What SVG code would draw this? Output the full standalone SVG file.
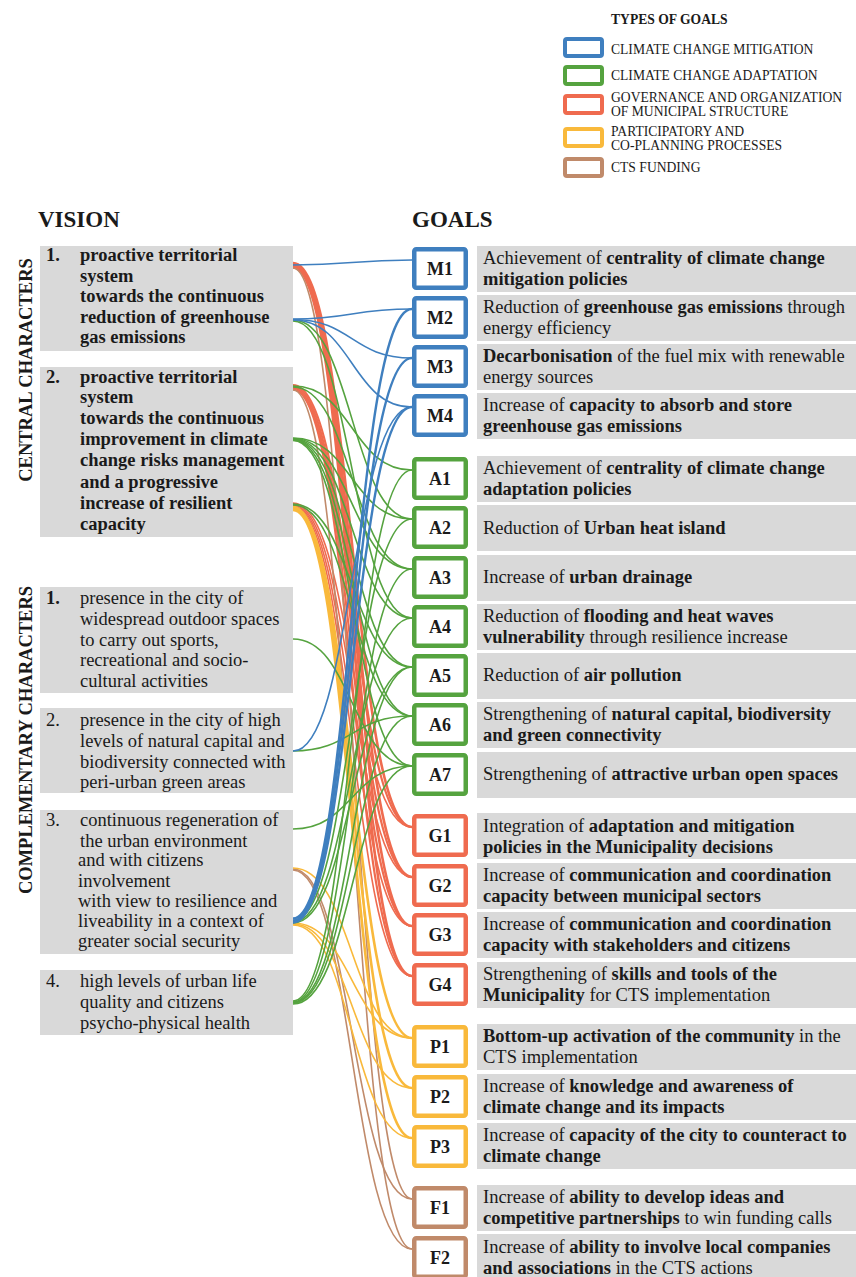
<svg xmlns="http://www.w3.org/2000/svg" width="856" height="1277" viewBox="0 0 856 1277">
  <style>
    text { font-family: "Liberation Serif", "Times New Roman", serif; fill: #1a1a1a; }
    .hd { font-size: 23px; font-weight: bold; }
    .side { font-size: 18.5px; font-weight: bold; text-anchor: middle; }
    .lg { font-size: 13.6px; }
    .lgt { font-size: 13.6px; font-weight: bold; }
    .vt { font-size: 18.5px; }
    .vb { font-size: 18.5px; font-weight: bold; }
    .gt { font-size: 18.5px; }
    .code { font-size: 18px; font-weight: bold; text-anchor: middle; }
    .b { font-weight: bold; }
    .panel { fill: #d9d9d9; }
    .box { fill: #ffffff; stroke-width: 4.5; }
    .lbox { fill: #ffffff; stroke-width: 4; }
    .mit { stroke: #3f7fbf; }
    .ada { stroke: #55a33f; }
    .gov { stroke: #ef6b4f; }
    .par { stroke: #f9b93b; }
    .fun { stroke: #c08a6a; }
    #connectors path { fill: none; stroke-linecap: round; }
    .cb { stroke: #3f7fbf; stroke-width: 1.6; }
    .cg { stroke: #55a33f; stroke-width: 1.6; }
    .cr { stroke: #ef6b4f; stroke-width: 1.6; }
    .cy { stroke: #f9b93b; stroke-width: 1.6; }
    .cn { stroke: #c08a6a; stroke-width: 1.6; }
  </style>

  <rect width="856" height="1277" fill="#ffffff"/>

  <!-- Legend: types of goals -->
  <g id="legend">
    <text class="lgt" x="611" y="24">TYPES OF GOALS</text>
    <rect class="lbox mit" x="565" y="39" width="37" height="17" rx="2"/>
    <text class="lg" x="611" y="54">CLIMATE CHANGE MITIGATION</text>
    <rect class="lbox ada" x="565" y="67" width="37" height="17" rx="2"/>
    <text class="lg" x="611" y="80">CLIMATE CHANGE ADAPTATION</text>
    <rect class="lbox gov" x="565" y="96" width="37" height="17" rx="2"/>
    <text class="lg" x="611" y="102">GOVERNANCE AND ORGANIZATION</text>
    <text class="lg" x="611" y="116">OF MUNICIPAL STRUCTURE</text>
    <rect class="lbox par" x="565" y="129" width="37" height="17" rx="2"/>
    <text class="lg" x="611" y="136">PARTICIPATORY AND</text>
    <text class="lg" x="611" y="150">CO-PLANNING PROCESSES</text>
    <rect class="lbox fun" x="565" y="159" width="37" height="17" rx="2"/>
    <text class="lg" x="611" y="172">CTS FUNDING</text>
  </g>

  <!-- Column headings -->
  <text class="hd" x="38" y="227">VISION</text>
  <text class="hd" x="412" y="227">GOALS</text>
  <text class="side" transform="translate(32,370) rotate(-90)">CENTRAL CHARACTERS</text>
  <text class="side" transform="translate(32,740) rotate(-90)">COMPLEMENTARY CHARACTERS</text>

  <!-- Connectors: vision characters to goals -->
  <g id="connectors">
    <!-- governance -->
    <path class="cr" style="stroke-width:2.6" d="M293,263C352,263 352,827 412,827"/>
    <path class="cr" style="stroke-width:2.6" d="M293,264.5C352,264.5 352,877 412,877"/>
    <path class="cr" style="stroke-width:2.6" d="M293,266C352,266 352,926 412,926"/>
    <path class="cr" style="stroke-width:2.6" d="M293,267.5C352,267.5 352,976 412,976"/>
    <path class="cr" style="stroke-width:2.2" d="M293,385C352,385 352,827 412,827"/>
    <path class="cr" style="stroke-width:2.2" d="M293,386.5C352,386.5 352,877 412,877"/>
    <path class="cr" style="stroke-width:2.2" d="M293,388C352,388 352,926 412,926"/>
    <path class="cr" style="stroke-width:2.2" d="M293,389.5C352,389.5 352,976 412,976"/>
    <path class="cr" d="M293,503C352,503 352,827 412,827"/>
    <path class="cr" d="M293,504C352,504 352,877 412,877"/>
    <path class="cr" d="M293,505C352,505 352,926 412,926"/>
    <path class="cr" d="M293,506C352,506 352,976 412,976"/>
    <!-- funding -->
    <path class="cn" d="M293,268C352,268 352,1199 412,1199"/>
    <path class="cn" d="M293,390C352,390 352,1249 412,1249"/>
    <path class="cn" d="M293,869C352,869 352,1199 412,1199"/>
    <path class="cn" d="M293,870C352,870 352,1249 412,1249"/>
    <!-- participatory -->
    <path class="cy" style="stroke-width:2.6" d="M293,507C352,507 352,1038 412,1038"/>
    <path class="cy" style="stroke-width:2.6" d="M293,508.5C352,508.5 352,1088 412,1088"/>
    <path class="cy" style="stroke-width:2.6" d="M293,510C352,510 352,1138 412,1138"/>
    <path class="cy" d="M293,868C352,868 352,1038 412,1038"/>
    <path class="cy" d="M293,923C352,923 352,1038 412,1038"/>
    <path class="cy" d="M293,924C352,924 352,1088 412,1088"/>
    <path class="cy" d="M293,925C352,925 352,1138 412,1138"/>
    <!-- adaptation -->
    <path class="cg" d="M293,320C352,320 352,519 412,519"/>
    <path class="cg" d="M293,321C352,321 352,618 412,618"/>
    <path class="cg" d="M293,386C352,386 352,470 412,470"/>
    <path class="cg" d="M293,387C352,387 352,569 412,569"/>
    <path class="cg" d="M293,438C352,438 352,519 412,519"/>
    <path class="cg" d="M293,438.5C352,438.5 352,569 412,569"/>
    <path class="cg" d="M293,439C352,439 352,618 412,618"/>
    <path class="cg" d="M293,439.5C352,439.5 352,667 412,667"/>
    <path class="cg" d="M293,440C352,440 352,716 412,716"/>
    <path class="cg" d="M293,440.5C352,440.5 352,766 412,766"/>
    <path class="cg" d="M293,504C352,504 352,667 412,667"/>
    <path class="cg" d="M293,505C352,505 352,716 412,716"/>
    <path class="cg" d="M293,639C352,639 352,766 412,766"/>
    <path class="cg" d="M293,751C352,751 352,716 412,716"/>
    <path class="cg" d="M293,829C352,829 352,766 412,766"/>
    <path class="cg" d="M293,921C352,921 352,519 412,519"/>
    <path class="cg" d="M293,922C352,922 352,618 412,618"/>
    <path class="cg" d="M293,923C352,923 352,667 412,667"/>
    <path class="cg" d="M293,1001C352,1001 352,470 412,470"/>
    <path class="cg" d="M293,1002C352,1002 352,569 412,569"/>
    <path class="cg" d="M293,1002.5C352,1002.5 352,667 412,667"/>
    <path class="cg" d="M293,1003C352,1003 352,716 412,716"/>
    <path class="cg" d="M293,1004C352,1004 352,766 412,766"/>
    <!-- mitigation -->
    <path class="cb" d="M293,265C352,265 352,260 412,260"/>
    <path class="cb" d="M293,319C352,319 352,309 412,309"/>
    <path class="cb" d="M293,319.5C352,319.5 352,358 412,358"/>
    <path class="cb" d="M293,320C352,320 352,407 412,407"/>
    <path class="cb" d="M293,751C352,751 352,407 412,407"/>
    <path class="cb" style="stroke-width:2.4" d="M293,918.5C352,918.5 352,309 412,309"/>
    <path class="cb" style="stroke-width:2.4" d="M293,920.5C352,920.5 352,358 412,358"/>
    <path class="cb" style="stroke-width:2.4" d="M293,922.5C352,922.5 352,407 412,407"/>
  </g>

  <!-- Vision: central characters -->
  <g id="vision-c1">
    <rect class="panel" x="40" y="246" width="253" height="105"/>
    <text class="vb" x="46" y="261">1.</text>
    <text class="vb" x="80" y="261">proactive territorial</text>
    <text class="vb" x="80" y="282">system</text>
    <text class="vb" x="80" y="302">towards the continuous</text>
    <text class="vb" x="80" y="323">reduction of greenhouse</text>
    <text class="vb" x="80" y="343">gas emissions</text>
  </g>
  <g id="vision-c2">
    <rect class="panel" x="40" y="367" width="253" height="170"/>
    <text class="vb" x="46" y="383">2.</text>
    <text class="vb" x="80" y="383">proactive territorial</text>
    <text class="vb" x="80" y="403">system</text>
    <text class="vb" x="80" y="424">towards the continuous</text>
    <text class="vb" x="80" y="445">improvement in climate</text>
    <text class="vb" x="80" y="466">change risks management</text>
    <text class="vb" x="80" y="488">and a progressive</text>
    <text class="vb" x="80" y="509">increase of resilient</text>
    <text class="vb" x="80" y="530">capacity</text>
  </g>

  <!-- Vision: complementary characters -->
  <g id="vision-p1">
    <rect class="panel" x="40" y="587" width="253" height="106"/>
    <text class="vb" x="46" y="604">1.</text>
    <text class="vt" x="80" y="604">presence in the city of</text>
    <text class="vt" x="80" y="625">widespread outdoor spaces</text>
    <text class="vt" x="80" y="646">to carry out sports,</text>
    <text class="vt" x="80" y="666">recreational and socio-</text>
    <text class="vt" x="80" y="687">cultural activities</text>
  </g>
  <g id="vision-p2">
    <rect class="panel" x="40" y="708" width="253" height="85"/>
    <text class="vt" x="46" y="726">2.</text>
    <text class="vt" x="80" y="726">presence in the city of high</text>
    <text class="vt" x="80" y="747">levels of natural capital and</text>
    <text class="vt" x="80" y="768">biodiversity connected with</text>
    <text class="vt" x="80" y="788">peri-urban green areas</text>
  </g>
  <g id="vision-p3">
    <rect class="panel" x="40" y="810" width="253" height="144"/>
    <text class="vt" x="46" y="826">3.</text>
    <text class="vt" x="80" y="826">continuous regeneration of</text>
    <text class="vt" x="80" y="847">the urban environment</text>
    <text class="vt" x="78" y="866">and with citizens</text>
    <text class="vt" x="78" y="887">involvement</text>
    <text class="vt" x="78" y="907">with view to resilience and</text>
    <text class="vt" x="78" y="927">liveability in a context of</text>
    <text class="vt" x="78" y="947">greater social security</text>
  </g>
  <g id="vision-p4">
    <rect class="panel" x="40" y="970" width="253" height="65"/>
    <text class="vt" x="46" y="987">4.</text>
    <text class="vt" x="80" y="987">high levels of urban life</text>
    <text class="vt" x="80" y="1008">quality and citizens</text>
    <text class="vt" x="80" y="1029">psycho-physical health</text>
  </g>

  <!-- Goals: mitigation -->
  <g id="goal-M1">
    <rect class="box mit" x="414.25" y="249.25" width="51.5" height="38.5" rx="2"/>
    <text class="code" x="440" y="275">M1</text>
    <rect class="panel" x="477" y="246" width="379" height="46"/>
    <text class="gt" x="483" y="264">Achievement of <tspan class="b">centrality of climate change</tspan></text>
    <text class="gt b" x="483" y="285">mitigation policies</text>
  </g>
  <g id="goal-M2">
    <rect class="box mit" x="414.25" y="298.25" width="51.5" height="38.5" rx="2"/>
    <text class="code" x="440" y="324">M2</text>
    <rect class="panel" x="477" y="295" width="379" height="46"/>
    <text class="gt" x="483" y="313">Reduction of <tspan class="b">greenhouse gas emissions</tspan> through</text>
    <text class="gt" x="483" y="334">energy efficiency</text>
  </g>
  <g id="goal-M3">
    <rect class="box mit" x="414.25" y="347.25" width="51.5" height="38.5" rx="2"/>
    <text class="code" x="440" y="373">M3</text>
    <rect class="panel" x="477" y="344" width="379" height="46"/>
    <text class="gt" x="483" y="362"><tspan class="b">Decarbonisation</tspan> of the fuel mix with renewable</text>
    <text class="gt" x="483" y="383">energy sources</text>
  </g>
  <g id="goal-M4">
    <rect class="box mit" x="414.25" y="396.25" width="51.5" height="38.5" rx="2"/>
    <text class="code" x="440" y="422">M4</text>
    <rect class="panel" x="477" y="393" width="379" height="46"/>
    <text class="gt" x="483" y="411">Increase of <tspan class="b">capacity to absorb and store</tspan></text>
    <text class="gt b" x="483" y="432">greenhouse gas emissions</text>
  </g>

  <!-- Goals: adaptation -->
  <g id="goal-A1">
    <rect class="box ada" x="414.25" y="459.25" width="51.5" height="38.5" rx="2"/>
    <text class="code" x="440" y="485">A1</text>
    <rect class="panel" x="477" y="456" width="379" height="46"/>
    <text class="gt" x="483" y="474">Achievement of <tspan class="b">centrality of climate change</tspan></text>
    <text class="gt b" x="483" y="495">adaptation policies</text>
  </g>
  <g id="goal-A2">
    <rect class="box ada" x="414.25" y="508.25" width="51.5" height="38.5" rx="2"/>
    <text class="code" x="440" y="534">A2</text>
    <rect class="panel" x="477" y="505" width="379" height="46"/>
    <text class="gt" x="483" y="534">Reduction of <tspan class="b">Urban heat island</tspan></text>
  </g>
  <g id="goal-A3">
    <rect class="box ada" x="414.25" y="558.25" width="51.5" height="38.5" rx="2"/>
    <text class="code" x="440" y="584">A3</text>
    <rect class="panel" x="477" y="555" width="379" height="46"/>
    <text class="gt" x="483" y="583">Increase of <tspan class="b">urban drainage</tspan></text>
  </g>
  <g id="goal-A4">
    <rect class="box ada" x="414.25" y="607.25" width="51.5" height="38.5" rx="2"/>
    <text class="code" x="440" y="633">A4</text>
    <rect class="panel" x="477" y="604" width="379" height="46"/>
    <text class="gt" x="483" y="622">Reduction of <tspan class="b">flooding and heat waves</tspan></text>
    <text class="gt" x="483" y="643"><tspan class="b">vulnerability</tspan> through resilience increase</text>
  </g>
  <g id="goal-A5">
    <rect class="box ada" x="414.25" y="656.25" width="51.5" height="38.5" rx="2"/>
    <text class="code" x="440" y="682">A5</text>
    <rect class="panel" x="477" y="653" width="379" height="46"/>
    <text class="gt" x="483" y="681">Reduction of <tspan class="b">air pollution</tspan></text>
  </g>
  <g id="goal-A6">
    <rect class="box ada" x="414.25" y="705.25" width="51.5" height="38.5" rx="2"/>
    <text class="code" x="440" y="731">A6</text>
    <rect class="panel" x="477" y="702" width="379" height="46"/>
    <text class="gt" x="483" y="720">Strengthening of <tspan class="b">natural capital, biodiversity</tspan></text>
    <text class="gt b" x="483" y="741">and green connectivity</text>
  </g>
  <g id="goal-A7">
    <rect class="box ada" x="414.25" y="755.25" width="51.5" height="38.5" rx="2"/>
    <text class="code" x="440" y="781">A7</text>
    <rect class="panel" x="477" y="752" width="379" height="46"/>
    <text class="gt" x="483" y="780">Strengthening of <tspan class="b">attractive urban open spaces</tspan></text>
  </g>

  <!-- Goals: governance -->
  <g id="goal-G1">
    <rect class="box gov" x="414.25" y="816.25" width="51.5" height="38.5" rx="2"/>
    <text class="code" x="440" y="842">G1</text>
    <rect class="panel" x="477" y="813" width="379" height="46"/>
    <text class="gt" x="483" y="832">Integration of <tspan class="b">adaptation and mitigation</tspan></text>
    <text class="gt b" x="483" y="853">policies in the Municipality decisions</text>
  </g>
  <g id="goal-G2">
    <rect class="box gov" x="414.25" y="866.25" width="51.5" height="38.5" rx="2"/>
    <text class="code" x="440" y="892">G2</text>
    <rect class="panel" x="477" y="863" width="379" height="46"/>
    <text class="gt" x="483" y="881">Increase of <tspan class="b">communication and coordination</tspan></text>
    <text class="gt b" x="483" y="902">capacity between municipal sectors</text>
  </g>
  <g id="goal-G3">
    <rect class="box gov" x="414.25" y="915.25" width="51.5" height="38.5" rx="2"/>
    <text class="code" x="440" y="941">G3</text>
    <rect class="panel" x="477" y="912" width="379" height="46"/>
    <text class="gt" x="483" y="930">Increase of <tspan class="b">communication and coordination</tspan></text>
    <text class="gt b" x="483" y="951">capacity with stakeholders and citizens</text>
  </g>
  <g id="goal-G4">
    <rect class="box gov" x="414.25" y="965.25" width="51.5" height="38.5" rx="2"/>
    <text class="code" x="440" y="991">G4</text>
    <rect class="panel" x="477" y="962" width="379" height="46"/>
    <text class="gt" x="483" y="980">Strengthening of <tspan class="b">skills and tools of the</tspan></text>
    <text class="gt" x="483" y="1001"><tspan class="b">Municipality</tspan> for CTS implementation</text>
  </g>

  <!-- Goals: participatory processes -->
  <g id="goal-P1">
    <rect class="box par" x="414.25" y="1027.25" width="51.5" height="38.5" rx="2"/>
    <text class="code" x="440" y="1053">P1</text>
    <rect class="panel" x="477" y="1024" width="379" height="46"/>
    <text class="gt" x="483" y="1042"><tspan class="b">Bottom-up activation of the community</tspan> in the</text>
    <text class="gt" x="483" y="1063">CTS implementation</text>
  </g>
  <g id="goal-P2">
    <rect class="box par" x="414.25" y="1077.25" width="51.5" height="38.5" rx="2"/>
    <text class="code" x="440" y="1103">P2</text>
    <rect class="panel" x="477" y="1074" width="379" height="46"/>
    <text class="gt" x="483" y="1092">Increase of <tspan class="b">knowledge and awareness of</tspan></text>
    <text class="gt b" x="483" y="1113">climate change and its impacts</text>
  </g>
  <g id="goal-P3">
    <rect class="box par" x="414.25" y="1127.25" width="51.5" height="38.5" rx="2"/>
    <text class="code" x="440" y="1153">P3</text>
    <rect class="panel" x="477" y="1123" width="379" height="46"/>
    <text class="gt" x="483" y="1141">Increase of <tspan class="b">capacity of the city to counteract to</tspan></text>
    <text class="gt b" x="483" y="1162">climate change</text>
  </g>

  <!-- Goals: funding -->
  <g id="goal-F1">
    <rect class="box fun" x="414.25" y="1188.25" width="51.5" height="38.5" rx="2"/>
    <text class="code" x="440" y="1214">F1</text>
    <rect class="panel" x="477" y="1185" width="379" height="46"/>
    <text class="gt" x="483" y="1203">Increase of <tspan class="b">ability to develop ideas and</tspan></text>
    <text class="gt" x="483" y="1224"><tspan class="b">competitive partnerships</tspan> to win funding calls</text>
  </g>
  <g id="goal-F2">
    <rect class="box fun" x="414.25" y="1238.25" width="51.5" height="38.5" rx="2"/>
    <text class="code" x="440" y="1264">F2</text>
    <rect class="panel" x="477" y="1234" width="379" height="46"/>
    <text class="gt" x="483" y="1253">Increase of <tspan class="b">ability to involve local companies</tspan></text>
    <text class="gt" x="483" y="1274"><tspan class="b">and associations</tspan> in the CTS actions</text>
  </g>
</svg>
